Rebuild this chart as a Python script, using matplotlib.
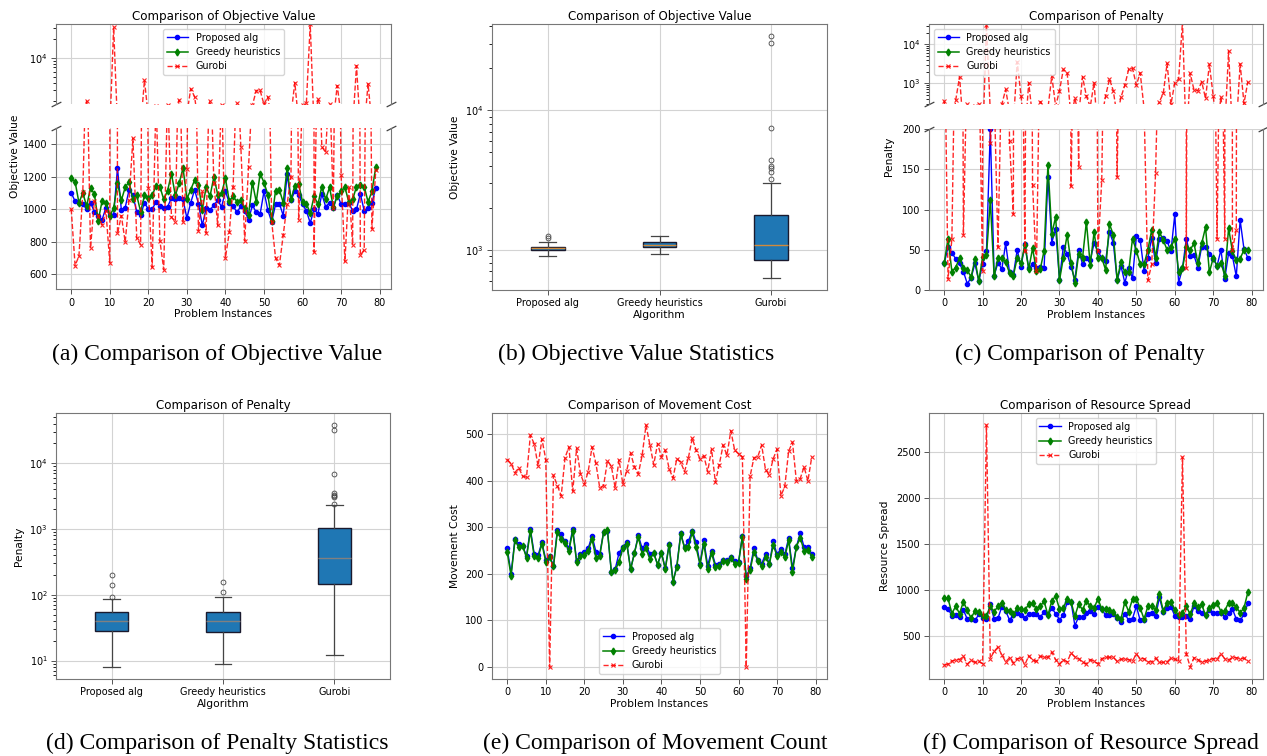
import numpy as np
import matplotlib as mpl
mpl.use('Agg')
import matplotlib.pyplot as plt
from matplotlib.ticker import NullFormatter

# ---- data ----
algs = ['Proposed alg', 'Greedy heuristics', 'Gurobi']
inst = np.arange(80)

obj_prop = [1100, 1050, 1040, 1030, 1000, 1040, 985, 960, 935, 1010,
            965, 965, 1255, 995, 1010, 1120, 1085, 985, 965, 1040,
            1000, 1000, 1045, 1020, 1005, 1015, 1070, 1065, 1070, 1060,
            945, 1040, 1120, 1035, 900, 1005, 995, 1025, 1055, 1015,
            1110, 1040, 1020, 980, 1020, 990, 935, 1025, 980, 970,
            1110, 995, 920, 1030, 1035, 960, 1215, 1055, 1110, 1090,
            1030, 990, 915, 1000, 970, 1095, 1015, 1040, 1005, 1090,
            1030, 1030, 1040, 990, 1000, 1095, 990, 1010, 1040, 1130]
obj_greedy = [1190, 1170, 1040, 1100, 1020, 1130, 1095, 930, 1050, 1040,
              960, 1005, 1160, 1055, 1135, 1170, 1060, 1085, 985, 1085,
              1070, 1085, 1145, 1140, 1060, 1115, 1220, 1085, 1160, 1255,
              1065, 1120, 1180, 1150, 995, 1140, 1080, 1200, 1090, 1100,
              1190, 1050, 1080, 1045, 1055, 1005, 965, 1165, 1045, 1220,
              1165, 1090, 930, 1115, 1120, 1040, 1255, 1060, 1145, 1155,
              1045, 1035, 975, 1080, 1030, 1140, 1060, 1135, 1015, 1080,
              1110, 1135, 1045, 1060, 1140, 1150, 1140, 1045, 1110, 1260]
obj_gurobi = [1000, 652, 710, 1105, 2025, 760, 1050, 960, 904, 990,
              670, 30500, 850, 960, 797, 1058, 1437, 822, 781, 4370,
              1133, 640, 1700, 806, 627, 1760, 951, 924, 2100, 918,
              1246, 3190, 2380, 867, 1110, 853, 2025, 1160, 900, 1770,
              700, 857, 1140, 1905, 1385, 805, 1262, 1740, 2990, 3000,
              1790, 2380, 924, 699, 654, 842, 1031, 1200, 4000, 935,
              1750, 1905, 34000, 735, 2210, 1386, 1351, 1795, 1010, 3580,
              1211, 678, 1140, 781, 7430, 715, 750, 3820, 879, 1240]

pen_prop = [33, 53, 46, 39, 33, 23, 8, 15, 33, 11,
            32, 48, 200, 18, 34, 26, 58, 22, 19, 50,
            29, 57, 27, 32, 28, 29, 28, 141, 59, 76,
            13, 54, 45, 29, 13, 50, 32, 40, 37, 58,
            48, 40, 36, 72, 59, 12, 30, 9, 27, 15,
            67, 62, 24, 40, 65, 33, 64, 65, 61, 48,
            94, 9, 27, 64, 42, 43, 28, 54, 54, 45,
            39, 30, 50, 14, 46, 42, 17, 87, 51, 40]
pen_greedy = [33, 64, 23, 28, 40, 27, 25, 16, 38, 11,
              41, 43, 112, 17, 40, 40, 35, 21, 18, 40,
              33, 56, 26, 52, 24, 26, 49, 156, 70, 91,
              12, 40, 69, 34, 9, 45, 40, 85, 31, 72,
              40, 40, 25, 82, 69, 13, 35, 22, 23, 64,
              49, 32, 32, 50, 75, 40, 72, 62, 50, 53,
              64, 23, 27, 53, 50, 58, 33, 58, 78, 22,
              40, 30, 34, 18, 77, 48, 37, 39, 50, 50]
pen_gurobi = [358, 14, 63, 370, 1480, 69, 295, 240, 260, 295,
              24, 32000, 183, 250, 53, 290, 700, 185, 94, 3580,
              473, 48, 1036, 131, 24, 340, 250, 230, 1540, 260,
              646, 2290, 1870, 129, 412, 153, 1480, 473, 250, 1036,
              48, 137, 473, 1300, 646, 141, 440, 900, 2290, 2420,
              900, 1870, 230, 12, 32, 146, 340, 550, 3260, 290,
              1036, 1300, 38000, 27, 1800, 680, 650, 1100, 412, 3070,
              473, 64, 440, 64, 6800, 50, 75, 3160, 307, 1100]

mov_prop = [255, 200, 275, 265, 260, 238, 297, 243, 240, 268,
            230, 238, 218, 295, 285, 270, 255, 297, 228, 243,
            248, 255, 282, 248, 243, 290, 292, 205, 210, 245,
            258, 268, 210, 245, 283, 255, 265, 242, 245, 220,
            245, 212, 265, 183, 218, 287, 258, 270, 293, 268,
            222, 272, 218, 250, 220, 222, 230, 230, 236, 227,
            225, 282, 195, 212, 256, 230, 222, 242, 222, 270,
            242, 254, 242, 277, 212, 258, 288, 258, 258, 243]
mov_greedy = [247, 196, 272, 258, 260, 235, 292, 238, 235, 265,
              226, 236, 216, 290, 274, 266, 250, 292, 226, 238,
              240, 250, 275, 235, 238, 290, 294, 205, 208, 226,
              256, 265, 210, 245, 280, 243, 255, 232, 245, 220,
              246, 210, 262, 183, 215, 285, 256, 258, 290, 257,
              220, 265, 210, 245, 215, 218, 228, 225, 234, 222,
              224, 280, 190, 208, 248, 228, 217, 236, 221, 262,
              238, 247, 236, 272, 205, 258, 278, 250, 252, 237]
mov_gurobi = [446, 437, 418, 428, 410, 408, 498, 480, 432, 490,
              446, 0, 412, 390, 368, 450, 473, 378, 470, 415,
              393, 420, 473, 438, 385, 390, 443, 432, 385, 445,
              393, 422, 460, 430, 415, 455, 520, 478, 435, 480,
              452, 466, 426, 406, 448, 440, 420, 450, 492, 466,
              448, 454, 420, 468, 397, 435, 477, 455, 508, 466,
              458, 452, 0, 410, 450, 452, 477, 424, 413, 448,
              468, 368, 388, 464, 483, 400, 405, 430, 400, 452]

spr_prop = [810, 795, 715, 725, 705, 780, 680, 680, 665, 730,
            695, 685, 840, 680, 690, 815, 770, 670, 725, 750,
            720, 695, 735, 740, 740, 700, 760, 720, 800, 740,
            675, 720, 865, 870, 610, 705, 705, 745, 770, 740,
            815, 790, 720, 725, 740, 690, 650, 740, 665, 685,
            820, 665, 670, 740, 750, 710, 915, 755, 805, 815,
            715, 700, 700, 715, 680, 820, 765, 745, 725, 775,
            750, 745, 750, 700, 745, 790, 680, 665, 730, 850]
spr_greedy = [910, 905, 740, 820, 740, 870, 775, 690, 770, 760,
              715, 715, 820, 760, 820, 860, 775, 770, 730, 800,
              790, 780, 840, 855, 790, 820, 875, 720, 880, 930,
              790, 800, 900, 870, 710, 845, 780, 880, 820, 800,
              900, 790, 790, 780, 760, 700, 680, 870, 760, 900,
              900, 800, 680, 820, 820, 780, 950, 770, 860, 870,
              780, 720, 750, 820, 730, 850, 810, 840, 720, 800,
              830, 860, 760, 770, 860, 850, 810, 750, 800, 970]
spr_gurobi = [180, 190, 225, 235, 240, 275, 190, 230, 210, 220,
              195, 2790, 250, 330, 375, 290, 215, 260, 205, 250,
              255, 185, 280, 235, 220, 275, 265, 265, 320, 240,
              190, 240, 215, 310, 270, 250, 210, 195, 240, 220,
              195, 250, 265, 265, 265, 220, 245, 245, 240, 225,
              300, 250, 250, 215, 215, 255, 210, 210, 215, 255,
              245, 220, 2440, 300, 160, 260, 240, 210, 225, 240,
              250, 245, 300, 250, 235, 265, 260, 250, 255, 225]

# ---- layout helpers (pixel boxes of the reference) ----
W, H = 1267, 756
fig = plt.figure(figsize=(W / 100, H / 100), dpi=100)

def px(x0, y0, x1, y1):
    return [x0 / W, 1 - y1 / H, (x1 - x0) / W, (y1 - y0) / H]

TICK = 7
LAB = 7.7
TITLE = 8.6
LEG = 6.9

def style(ax):
    for s in ax.spines.values():
        s.set_color('#777777')
        s.set_linewidth(0.8)
    ax.tick_params(labelsize=TICK, length=3.5, width=0.7, color='#555555', pad=2.5)
    ax.grid(True, color='#d3d3d3', lw=0.8)
    ax.set_axisbelow(True)

def series(ax, a, b, c):
    ax.plot(inst, a, color='blue', marker='o', ms=3, lw=1, label='Proposed alg')
    ax.plot(inst, b, color='green', marker='d', ms=3.5, lw=1.1, label='Greedy heuristics')
    ax.plot(inst, c, color='red', ls='--', marker='x', ms=3, mew=0.8, lw=1,
            alpha=0.85, label='Gurobi')
    ax.set_xticks(range(0, 81, 10))

def breaks(top, bot):
    top.spines['bottom'].set_visible(False)
    bot.spines['top'].set_visible(False)
    top.tick_params(bottom=False, labelbottom=False)
    kw = dict(marker=[(-1, -0.5), (1, 0.5)], markersize=7, linestyle='none',
              color='#444444', mec='#444444', mew=0.9, clip_on=False)
    top.plot([0, 1], [0, 0], transform=top.transAxes, **kw)
    bot.plot([0, 1], [1, 1], transform=bot.transAxes, **kw)

def legend(ax, loc):
    ax.legend(loc=loc, fontsize=LEG, framealpha=0.8, edgecolor='#cccccc',
              borderpad=0.4, labelspacing=0.45, handlelength=2.2)

def boxes(ax, data, medc):
    ax.boxplot(data, patch_artist=True, widths=0.3, tick_labels=algs,
               boxprops=dict(facecolor='#1f77b4', edgecolor='#1a1a2e', lw=1),
               medianprops=dict(color=medc, lw=1),
               whiskerprops=dict(color='#444444', lw=0.9),
               capprops=dict(color='#444444', lw=0.9),
               flierprops=dict(marker='o', markersize=3.5, markerfacecolor='none',
                               markeredgecolor='#444444', markeredgewidth=0.6))
    ax.set_yscale('log')
    ax.yaxis.set_minor_formatter(NullFormatter())
    ax.set_xlabel('Algorithm', fontsize=LAB, labelpad=1)

# (a) objective value, broken axis
a_top = fig.add_axes(px(56, 24, 391, 104.3))
a_bot = fig.add_axes(px(56, 128.3, 391, 289.3), sharex=a_top)
for ax in (a_top, a_bot):
    style(ax)
    series(ax, obj_prop, obj_greedy, obj_gurobi)
a_top.set_yscale('log')
a_top.set_ylim(1800, 34500)
a_top.yaxis.set_minor_formatter(NullFormatter())
a_bot.set_ylim(505, 1500)
a_bot.set_yticks([600, 800, 1000, 1200, 1400])
breaks(a_top, a_bot)
a_top.set_title('Comparison of Objective Value', fontsize=TITLE, pad=3)
a_bot.set_xlabel('Problem Instances', fontsize=LAB, labelpad=1)
fig.text(15 / W, 1 - 156.5 / H, 'Objective Value', rotation=90, fontsize=LAB,
         ha='center', va='center')
legend(a_top, 'upper center')

# (b) objective value statistics
b = fig.add_axes(px(492, 24, 827, 290))
style(b)
boxes(b, [obj_prop, obj_greedy, obj_gurobi], '#d08a3c')
b.set_title('Comparison of Objective Value', fontsize=TITLE, pad=3)
b.set_ylabel('Objective Value', fontsize=LAB)

# (c) penalty, broken axis
c_top = fig.add_axes(px(929, 24, 1263, 104.3))
c_bot = fig.add_axes(px(929, 129.3, 1263, 290), sharex=c_top)
for ax in (c_top, c_bot):
    style(ax)
    series(ax, pen_prop, pen_greedy, pen_gurobi)
c_top.set_yscale('log')
c_top.set_ylim(290, 33500)
c_top.yaxis.set_minor_formatter(NullFormatter())
c_bot.set_ylim(0, 200)
c_bot.set_yticks([0, 50, 100, 150, 200])
breaks(c_top, c_bot)
c_top.set_title('Comparison of Penalty', fontsize=TITLE, pad=3)
c_bot.set_xlabel('Problem Instances', fontsize=LAB, labelpad=1)
fig.text(889 / W, 1 - 156.5 / H, 'Penalty', rotation=90, fontsize=LAB,
         ha='center', va='center')
legend(c_top, 'upper left')

# (d) penalty statistics
d = fig.add_axes(px(56, 413, 390, 679))
style(d)
boxes(d, [pen_prop, pen_greedy, pen_gurobi], '#808080')
d.set_title('Comparison of Penalty', fontsize=TITLE, pad=3)
d.set_ylabel('Penalty', fontsize=LAB)

# (e) movement cost
e = fig.add_axes(px(492, 413, 827, 679))
style(e)
series(e, mov_prop, mov_greedy, mov_gurobi)
e.set_title('Comparison of Movement Cost', fontsize=TITLE, pad=3)
e.set_xlabel('Problem Instances', fontsize=LAB, labelpad=1)
e.set_ylabel('Movement Cost', fontsize=LAB)
legend(e, 'lower center')

# (f) resource spread
f = fig.add_axes(px(929, 413, 1263, 679))
style(f)
series(f, spr_prop, spr_greedy, spr_gurobi)
f.set_title('Comparison of Resource Spread', fontsize=TITLE, pad=3)
f.set_xlabel('Problem Instances', fontsize=LAB, labelpad=1)
f.set_ylabel('Resource Spread', fontsize=LAB)
legend(f, 'upper center')

# sub-figure captions
caps = [(217, 354, '(a) Comparison of Objective Value'),
        (636, 354, '(b) Objective Value Statistics'),
        (1080, 354, '(c) Comparison of Penalty'),
        (217, 743, '(d) Comparison of Penalty Statistics'),
        (655, 743, '(e) Comparison of Movement Count'),
        (1091, 743, '(f) Comparison of Resource Spread')]
for x, y, t in caps:
    fig.text(x / W, 1 - y / H, t, ha='center', va='center', fontsize=17,
             family='Liberation Serif')

fig.savefig('out.png', dpi=100)
